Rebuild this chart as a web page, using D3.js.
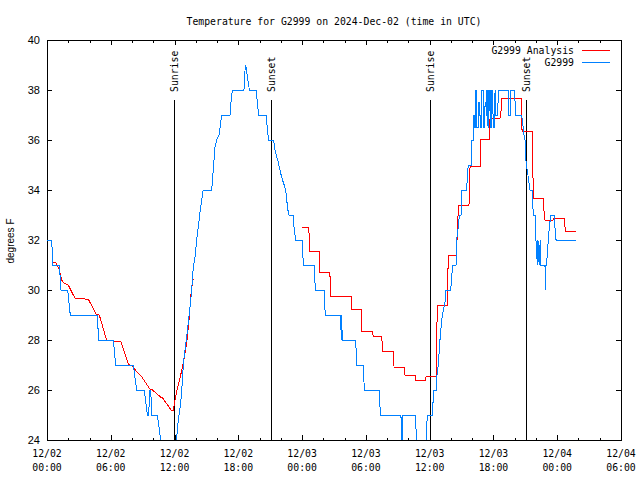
<!DOCTYPE html>
<html><head><meta charset="utf-8">
<script src="https://cdn.jsdelivr.net/npm/d3@7"></script>
<style>body{margin:0;background:#fff}</style>
</head><body><svg id="c" width="640" height="480"></svg>
<script>
const titleText = "Temperature for G2999 on 2024-Dec-02 (time in UTC)";
const yLabelText = "degrees F";
const seriesNames = ["G2999 Analysis", "G2999"];
const seriesColors = ["#ff0000", "#0080ff"];
const startUTC = Date.UTC(2024, 11, 2, 0, 0);
const spanHours = 54;
const xMajorHours = [0, 6, 12, 18, 24, 30, 36, 42, 48, 54];
const xMinorHours = [2, 4, 8, 10, 14, 16, 20, 22, 26, 28, 32, 34, 38, 40, 44, 46, 50, 52];
const yTicks = [24, 26, 28, 30, 32, 34, 36, 38, 40];
const sunEvents = [["Sunrise", 11.97], ["Sunset", 21.07], ["Sunrise", 36.05], ["Sunset", 45.05]];

// [hours since 12/02 00:00 UTC, degrees F]
const analysisNight = [
 [0.59,31.1],[0.82,31.1],[0.94,31.0],[1.16,30.8],[1.38,30.4],[1.60,30.27],[2.00,30.2],[2.63,29.67],
 [3.89,29.63],[4.61,29.04],[4.92,29.0],[5.62,27.97],[6.93,27.95],[7.65,27.04],[8.06,26.95],[8.44,26.73],
 [8.91,26.53],[9.69,26.03],[9.85,26.03],[10.70,25.71],[10.88,25.68],[11.67,25.2],[11.88,25.2],
 [12.04,25.6],[12.20,25.93],[12.51,26.47],[12.82,27.07],[13.14,27.87],[13.39,28.93],[13.52,29.73],
 [13.71,30.4],[13.83,30.45]
];
const analysisDay = [
 [24.02,32.5],[24.60,32.5],[24.65,32.27],[24.71,31.56],[25.62,31.56],[25.64,30.7],[26.62,30.7],[26.65,29.76],
 [28.63,29.76],[28.66,29.24],[29.54,29.24],[29.61,28.36],[30.60,28.36],[30.70,28.13],[31.49,28.13],[31.58,27.56],
 [32.58,27.56],[32.65,26.91],[33.59,26.91],[33.68,26.6],[34.65,26.6],[34.71,26.4],[35.63,26.4],[35.66,26.56],
 [36.60,26.56],[36.66,28.0],[36.72,29.4],[37.66,29.4],[37.75,31.4],[38.54,31.4],[38.60,32.47],[38.73,33.4],
 [39.70,33.4],[39.80,34.96],[40.74,34.96],[40.80,36.03],[41.63,36.03],[41.68,36.87],[42.62,36.87],[42.72,37.2],
 [42.78,37.65],[44.66,37.65],[44.69,36.33],[45.66,36.33],[45.75,33.65],[46.69,33.65],[46.75,33.2],[46.85,32.8],
 [47.60,32.8],[47.63,32.87],[48.67,32.87],[48.76,32.36],[49.74,32.36]
];
const observed = [
 [0,32],[0.44,32],[0.56,31],[1.16,31],[1.32,30],[1.95,30],[2.19,29],[4.73,29],[4.86,28],[6.24,28],[6.46,27],
 [8.12,27],[8.44,26],[9.15,26],[9.44,25],[9.55,25],[9.69,26],[9.76,26],[9.85,25],[10.38,25],[10.70,24],
 [11.0,23.2],[11.9,23.2],[12.13,24.0],[12.20,24.1],[12.35,24.8],[12.58,25.5],[12.73,26.3],[12.82,27.0],
 [12.98,27.6],[13.14,28.1],[13.29,28.7],[13.45,29.3],[13.61,30.0],[13.76,30.9],[13.92,31.3],[14.08,32.0],
 [14.23,32.5],[14.39,33.1],[14.55,33.6],[14.70,34.0],[15.49,34.0],[15.59,34.5],[15.71,35.2],[15.80,35.7],
 [15.96,36.0],[16.18,36.2],[16.28,36.5],[16.44,37.0],[17.22,37.0],[17.31,37.5],[17.43,38.0],[18.53,38.0],
 [18.63,38.8],[18.69,39.0],[18.79,38.8],[18.84,38.5],[18.98,38.2],[19.03,38.0],[19.66,38.0],[19.79,37.5],
 [19.91,37.0],[20.60,37.0],[20.72,36.5],[20.84,36.0],[21.31,36.0],[21.45,35.6],[21.76,35.1],[22.08,34.5],
 [22.39,34.1],[22.55,33.7],[22.61,33.3],[22.77,33.0],[23.17,33.0],[23.24,32.5],[23.40,32.0],[24.02,32.0],
 [24.11,31.0],[25.15,31.0],[25.24,30.0],[26.06,30.0],[26.18,29.0],[27.63,29.0],[27.68,28.0],[27.72,29.0],
 [27.78,28.0],[29.04,28.0],[29.14,27.0],[29.76,27.0],[29.85,26.0],[31.26,26.0],[31.36,25.0],[33.30,25.0],
 [33.37,23.5],[33.46,25.0],[34.69,25.0],[34.76,23.5],[35.61,23.5],[35.66,24.0],[35.78,25.0],[36.29,25.0],
 [36.34,26.0],[36.62,26.0],[36.66,26.5],[36.81,27.0],[36.97,28.0],[37.07,28.5],[37.19,29.0],[37.44,29.5],
 [37.54,30.0],[37.98,30.0],[38.07,30.5],[38.17,31.0],[38.48,31.0],[38.54,32.0],[38.69,32.5],[38.79,33.0],
 [38.95,33.0],[39.01,34.0],[39.48,34.0],[39.54,34.5],[39.63,35.0],[39.94,35.0],[39.98,36.0],[40.08,36.0],
 [40.10,37.0],[40.20,37.0],[40.22,36.5],[40.29,36.5],[40.31,38.0],[40.38,38.0],[40.40,36.5],[40.57,36.5],
 [40.59,37.5],[40.70,37.5],[40.72,37.0],[40.81,37.0],[40.83,36.5],[40.90,36.5],[40.92,38.0],[41.02,38.0],
 [41.04,36.5],[41.19,36.5],[41.21,37.5],[41.33,37.5],[41.35,37.0],[41.37,37.0],[41.39,38.0],[41.47,38.0],
 [41.49,36.5],[41.56,36.5],[41.58,38.0],[41.66,38.0],[41.68,37.0],[41.70,37.0],[41.72,38.0],[41.75,38.0],
 [41.77,36.5],[41.84,36.5],[41.86,38.0],[41.94,38.0],[41.96,37.0],[42.03,37.0],[42.05,36.5],[42.13,36.5],
 [42.15,38.0],[42.22,38.0],[42.24,37.0],[42.41,37.0],[42.43,37.5],[42.50,37.5],[42.52,38.0],[43.40,38.0],
 [43.42,37.0],[43.60,37.0],[43.62,38.0],[44.02,38.0],[44.04,37.0],[44.66,37.0],
 [44.88,36.2],[44.97,36.0],[45.07,35.1],[45.28,34.5],
 [45.44,34.0],[45.63,34.0],[45.75,33.0],[45.91,33.0],[46.00,32.0],[46.13,31.0],[46.19,32.0],[46.30,31.0],
 [46.40,32.0],[46.47,31.0],[46.85,31.0],[46.88,30.0],[46.94,31.0],[46.99,31.0],[47.16,32.0],[47.26,32.5],
 [47.39,33.0],[47.70,33.0],[47.79,32.5],[47.89,32.0],[49.77,32.0]
];

const svg = d3.select("#c");
const L = 47, R = 621, T = 40, B = 440;
const toDate = h => new Date(startUTC + h * 3600e3);
const x = d3.scaleUtc().domain([toDate(0), toDate(spanHours)]).range([L, R]);
const y = d3.scaleLinear().domain([24, 40]).range([B, T]);
const mono = "'DejaVu Sans Mono', 'Liberation Mono', monospace";
const sans = "'Liberation Sans', Arial, sans-serif";

svg.append("rect").attr("width", 640).attr("height", 480).attr("fill", "#fff");

svg.append("defs").append("clipPath").attr("id", "clip")
  .append("rect").attr("x", L).attr("y", T).attr("width", R - L).attr("height", B - T);

function styleAxis(g) { g.select(".domain").remove(); g.selectAll("line").attr("stroke", "#000").attr("shape-rendering", "crispEdges"); }
svg.append("g").attr("transform", `translate(0,${B})`)
  .call(d3.axisBottom(x).tickValues(xMajorHours.map(toDate)).tickSize(-5).tickFormat("")).call(styleAxis);
svg.append("g").attr("transform", `translate(0,${B})`)
  .call(d3.axisBottom(x).tickValues(xMinorHours.map(toDate)).tickSize(-2.5).tickFormat("")).call(styleAxis);
svg.append("g").attr("transform", `translate(0,${T})`)
  .call(d3.axisTop(x).tickValues(xMajorHours.map(toDate)).tickSize(-5).tickFormat("")).call(styleAxis);
svg.append("g").attr("transform", `translate(0,${T})`)
  .call(d3.axisTop(x).tickValues(xMinorHours.map(toDate)).tickSize(-2.5).tickFormat("")).call(styleAxis);
const yl = svg.append("g").attr("transform", `translate(${L},0)`)
  .call(d3.axisLeft(y).tickValues(yTicks).tickSize(-5).tickPadding(7).tickFormat(d3.format("d"))).call(styleAxis);
yl.selectAll("text").attr("font-family", sans).attr("font-size", 11).attr("fill", "#000");
svg.append("g").attr("transform", `translate(${R},0)`)
  .call(d3.axisRight(y).tickValues(yTicks).tickSize(-5).tickFormat("")).call(styleAxis);

const fmtD = d3.utcFormat("%m/%d"), fmtT = d3.utcFormat("%H:%M");
const xl = svg.append("g").attr("font-family", mono).attr("font-size", 9.8).attr("text-anchor", "middle");
xMajorHours.forEach(h => {
  const d = toDate(h);
  const t = xl.append("text");
  t.append("tspan").attr("x", x(d)).attr("y", 457).text(fmtD(d));
  t.append("tspan").attr("x", x(d)).attr("y", 471).text(fmtT(d));
});

svg.append("rect").attr("x", L).attr("y", T).attr("width", R - L).attr("height", B - T)
  .attr("fill", "none").attr("stroke", "#000").attr("shape-rendering", "crispEdges");

const sg = svg.append("g");
sunEvents.forEach(([lab, h]) => {
  const xx = Math.round(x(toDate(h))) + 0.5;
  sg.append("line").attr("x1", xx).attr("x2", xx).attr("y1", 100).attr("y2", B)
    .attr("stroke", "#000").attr("stroke-width", 1).attr("shape-rendering", "crispEdges");
  sg.append("text").attr("transform", `translate(${xx + 3.5},92) rotate(-90)`)
    .attr("font-family", mono).attr("font-size", 9.8).attr("text-anchor", "start").text(lab);
});

const line = d3.line().x(d => x(toDate(d[0]))).y(d => y(d[1]));
const plot = svg.append("g").attr("clip-path", "url(#clip)");
[analysisNight, analysisDay].forEach(s => plot.append("path").attr("d", line(s))
  .attr("fill", "none").attr("stroke", seriesColors[0]).attr("stroke-width", 1)
  .attr("shape-rendering", "crispEdges"));
plot.append("path").attr("d", line(observed))
  .attr("fill", "none").attr("stroke", seriesColors[1]).attr("stroke-width", 1)
  .attr("shape-rendering", "crispEdges");

const lg = svg.append("g").attr("font-family", mono).attr("font-size", 9.8);
seriesNames.forEach((n, i) => {
  const yy = 50 + i * 12.7;
  lg.append("text").attr("x", 574).attr("y", yy + 3.5).attr("text-anchor", "end").text(n);
  lg.append("line").attr("x1", 582).attr("x2", 610).attr("y1", yy).attr("y2", yy)
    .attr("stroke", seriesColors[i]).attr("stroke-width", 1).attr("shape-rendering", "crispEdges");
});

svg.append("text").attr("x", (L + R) / 2).attr("y", 24.5).attr("text-anchor", "middle")
  .attr("font-family", mono).attr("font-size", 9.8).text(titleText);
svg.append("text").attr("transform", `translate(14,241) rotate(-90)`).attr("text-anchor", "middle")
  .attr("font-family", sans).attr("font-size", 10).text(yLabelText);
</script></body></html>
